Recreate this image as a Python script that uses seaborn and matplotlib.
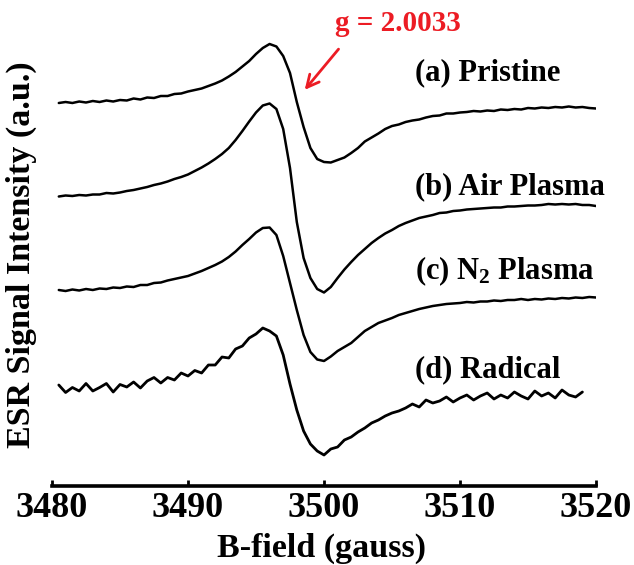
import numpy as np
import pandas as pd
import matplotlib
matplotlib.use("Agg")
import matplotlib.pyplot as plt
import seaborn as sns

# ---------------- data ----------------
field = [3480.5, 3481.0, 3481.5, 3482.0, 3482.5, 3483.0, 3483.5, 3484.0, 3484.5, 3485.0,
         3485.5, 3486.0, 3486.5, 3487.0, 3487.5, 3488.0, 3488.5, 3489.0, 3489.5, 3490.0,
         3490.5, 3491.0, 3491.5, 3492.0, 3492.5, 3493.0, 3493.5, 3494.0, 3494.5, 3495.0,
         3495.5, 3496.0, 3496.5, 3497.0, 3497.5, 3498.0, 3498.5, 3499.0, 3499.5, 3500.0,
         3500.5, 3501.0, 3501.5, 3502.0, 3502.5, 3503.0, 3503.5, 3504.0, 3504.5, 3505.0,
         3505.5, 3506.0, 3506.5, 3507.0, 3507.5, 3508.0, 3508.5, 3509.0, 3509.5, 3510.0,
         3510.5, 3511.0, 3511.5, 3512.0, 3512.5, 3513.0, 3513.5, 3514.0, 3514.5, 3515.0,
         3515.5, 3516.0, 3516.5, 3517.0, 3517.5, 3518.0, 3518.5, 3519.0, 3519.5, 3520.0]

pristine = [383, 384, 383, 384.5, 383.5, 385, 384, 385.5, 384.5, 386,
            385.5, 387.5, 386.5, 388.5, 388, 390, 390, 392, 392.5, 394.5,
            396, 397.5, 400, 402.5, 405.5, 409.5, 414, 419.5, 425, 432,
            438, 442, 439.5, 430, 413, 384, 359, 338, 327, 324,
            323.5, 326, 328.5, 333, 338, 344.5, 348.5, 352.5, 357, 360,
            361.5, 364, 365.5, 366.5, 368.5, 370, 370.5, 372.5, 372.5, 373.5,
            374, 375, 374.5, 375.5, 375, 376.5, 376, 377, 376.5, 378,
            377.5, 378.5, 378, 379, 378.5, 379.5, 378.5, 379, 378, 377.5]

air_plasma = [289.5, 290.5, 290, 291, 290.5, 291.5, 291.5, 293, 292.5, 293.5,
              295, 296, 297.5, 299, 301, 302.5, 304.5, 307, 309, 311.5,
              315, 318.5, 322.5, 327, 332, 338, 346, 355, 364.5, 373.5,
              380.5, 382.5, 377, 357, 318, 264, 228, 208, 197, 193.5,
              199, 208, 216.5, 224, 231, 237, 243, 248, 252.5, 256,
              260, 263, 265.5, 268, 269.5, 271, 273, 273.5, 275, 275.5,
              276.5, 277, 277.5, 278, 278.5, 278.5, 279.5, 279.5, 280, 280.5,
              280.5, 281, 282, 281.5, 282, 281.5, 282, 281, 281, 280]

n2_plasma = [196, 195, 196.5, 195.5, 197, 196, 197.5, 197, 198.5, 198,
             199.5, 199, 201, 201, 203, 203.5, 205.5, 207, 208.5, 210,
             212.5, 215, 218, 221, 224.5, 229, 234.5, 241, 247, 253.5,
             258, 258.5, 251, 230, 203, 176, 151, 134, 126.5, 125,
             129.5, 135, 139, 143, 149, 155, 159, 163, 165.5, 168,
             171, 173, 175, 177, 178.5, 180, 181, 182, 182.5, 183,
             184, 183.5, 184.5, 184.5, 185.5, 185, 186, 186, 187, 186,
             187, 186.5, 187.5, 187, 188, 187.5, 188.5, 188, 189, 188.5]

radical_field = field[:78]
radical = [101, 93.5, 98.5, 95, 102.5, 95, 98.5, 102.5, 94, 101.5,
           99, 104, 98, 105, 108.5, 103, 108.5, 106, 113, 110,
           115.5, 113, 121, 121, 129, 128, 137, 140, 148, 152,
           158, 155, 150, 131, 102, 76, 55, 42, 35, 31,
           37, 39, 46, 49, 54, 58, 63, 66, 70, 73,
           75, 78, 82, 79, 86, 83, 85, 89, 84, 88,
           91, 86, 90, 93, 87, 91, 88, 94, 90, 87,
           95, 90, 93, 88, 96, 91, 89, 94]

labels = ["(a) Pristine", "(b) Air Plasma", r"(c) N$_{2}$ Plasma", "(d) Radical"]
label_heights = [406, 292, 207, 109]
label_field = 3506.7
xticks = [3480, 3490, 3500, 3510, 3520]

# ---------------- style ----------------
sns.set_theme(style="white")
plt.rcParams["font.family"] = ["Liberation Serif", "DejaVu Serif"]
plt.rcParams["font.weight"] = "bold"
plt.rcParams["mathtext.fontset"] = "custom"
plt.rcParams["mathtext.rm"] = "Liberation Serif:bold"
plt.rcParams["mathtext.bf"] = "Liberation Serif:bold"
plt.rcParams["mathtext.it"] = "Liberation Serif:bold"
plt.rcParams["mathtext.default"] = "bf"

fig = plt.figure(figsize=(6.34, 5.65), dpi=100)
ax = fig.add_axes([52 / 634, 79 / 565, 544 / 634, 476 / 565])

series = [(field, pristine, 1.8), (field, air_plasma, 1.8), (field, n2_plasma, 1.8),
          (radical_field, radical, 2.0)]
for xs, ys, lw in series:
    sns.lineplot(x=xs, y=ys, ax=ax, color="black", lw=lw, estimator=None, sort=False)

for lab, h in zip(labels, label_heights):
    ax.text(label_field, h, lab, fontsize=22, fontweight="bold", ha="left", va="baseline",
            color="black")

red = "#ec1c24"
ax.text(3505.45, 455, "g = 2.0033", fontsize=21, fontweight="bold", color=red,
        ha="center", va="baseline")
ax.annotate("", xy=(3498.45, 394), xytext=(3501.2, 439),
            arrowprops=dict(arrowstyle="->", color=red, lw=2.0, mutation_scale=22))

ax.set_xlim(3480, 3520)
ax.set_ylim(0, 476)
ax.set_xticks(xticks)
ax.set_xticklabels([str(t) for t in xticks])
ax.set_yticks([])
for s in ["left", "right", "top"]:
    ax.spines[s].set_visible(False)
ax.spines["bottom"].set_linewidth(2.6)
ax.spines["bottom"].set_color("black")
ax.tick_params(axis="x", direction="in", length=4, width=2, pad=4.5, labelsize=26,
               colors="black", bottom=True)
for t in ax.get_xticklabels():
    t.set_fontweight("bold")

ax.set_xlabel("B-field (gauss)", fontsize=24.5, fontweight="bold", color="black")
ax.xaxis.label.set_va("baseline")
ax.xaxis.set_label_coords(0.4957, -0.149)
ax.set_ylabel("ESR Signal Intensity (a.u.)", fontsize=24.5, fontweight="bold", color="black")
ax.yaxis.set_label_coords(-0.0276, 0.486)
ax.set_facecolor("white")
fig.patch.set_facecolor("white")

fig.savefig("out.png", dpi=100)
